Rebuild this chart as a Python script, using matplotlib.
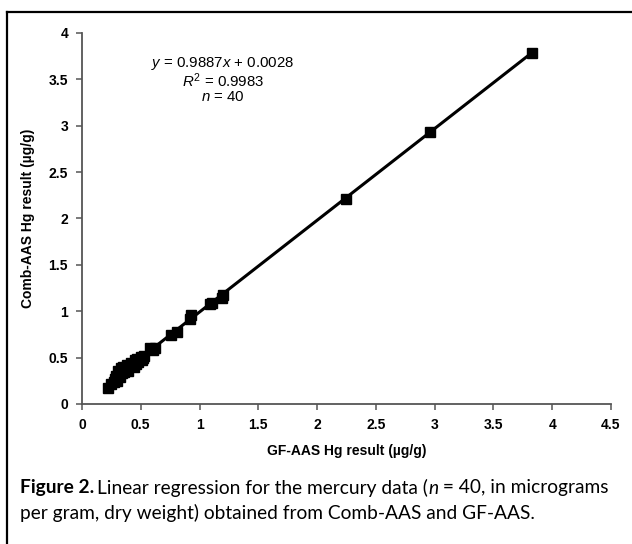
import matplotlib
matplotlib.use('Agg')
import matplotlib.pyplot as plt
from matplotlib.lines import Line2D
import numpy as np

plt.rcParams['font.family'] = ['Liberation Sans', 'DejaVu Sans']
plt.rcParams['mathtext.fontset'] = 'custom'
plt.rcParams['mathtext.rm'] = 'Liberation Sans'
plt.rcParams['mathtext.it'] = 'Liberation Sans:italic'

# GF-AAS vs Comb-AAS Hg results (ug/g)
gf_aas = [0.22, 0.25, 0.27, 0.28, 0.29, 0.30, 0.31, 0.32, 0.33, 0.34,
          0.35, 0.36, 0.37, 0.38, 0.39, 0.40, 0.42, 0.44, 0.45, 0.46,
          0.47, 0.48, 0.50, 0.51, 0.52, 0.53, 0.58, 0.60, 0.62, 0.76,
          0.81, 0.92, 0.93, 1.09, 1.11, 1.19, 1.20, 2.25, 2.96, 3.83]
comb_aas = [0.17, 0.21, 0.24, 0.27, 0.30, 0.25, 0.36, 0.29, 0.39, 0.33,
            0.40, 0.35, 0.38, 0.42, 0.36, 0.41, 0.44, 0.40, 0.47, 0.43,
            0.49, 0.45, 0.51, 0.47, 0.50, 0.52, 0.60, 0.58, 0.60, 0.74,
            0.78, 0.92, 0.96, 1.08, 1.09, 1.14, 1.18, 2.21, 2.93, 3.78]
slope = 0.9887
intercept = 0.0028
r2 = 0.9983
x_ticks = [0, 0.5, 1, 1.5, 2, 2.5, 3, 3.5, 4, 4.5]
y_ticks = [0, 0.5, 1, 1.5, 2, 2.5, 3, 3.5, 4]

fig = plt.figure(figsize=(6.32, 5.44), dpi=100)
ax = fig.add_axes([0.1297, 0.2574, 0.837, 0.682])

xs = np.array([min(gf_aas), max(gf_aas)])
ax.plot(xs, slope * xs + intercept, color='black', lw=2.2, zorder=2)
ax.plot(gf_aas, comb_aas, 's', color='black', markersize=7.8, zorder=3)

ax.set_xlim(0, 4.5)
ax.set_ylim(0, 4)
ax.set_xticks(x_ticks)
ax.set_yticks(y_ticks)
ax.set_xticklabels([f'{v:g}' for v in x_ticks])
ax.set_yticklabels([f'{v:g}' for v in y_ticks])
for s in ['top', 'right']:
    ax.spines[s].set_visible(False)
for s in ['left', 'bottom']:
    ax.spines[s].set_color('#555555')
    ax.spines[s].set_linewidth(1.3)
ax.tick_params(direction='out', length=4, width=1.1, color='#555555',
               labelsize=10, pad=6)
for lab in ax.get_xticklabels() + ax.get_yticklabels():
    lab.set_fontweight('bold')

ax.set_xlabel('GF-AAS Hg result (µg/g)', fontsize=10, fontweight='bold', labelpad=9)
ax.set_ylabel('Comb-AAS Hg result (µg/g)', fontsize=10, fontweight='bold', labelpad=10)

ax.text(1.2, 3.67, '$\\it{y}$ = %.4f$\\it{x}$ + %.4f' % (slope, intercept),
        ha='center', va='center', fontsize=10.8)
ax.text(1.2, 3.49, '$\\it{R}^2$ = %.4f' % r2, ha='center', va='center', fontsize=10.8)
ax.text(1.2, 3.31, '$\\it{n}$ = %d' % len(gf_aas), ha='center', va='center', fontsize=10.8)

# frame lines of the figure box (top and left)
fig.add_artist(Line2D([7 / 632, 1], [1 - 12 / 544, 1 - 12 / 544],
                      transform=fig.transFigure, color='black', lw=1.6))
fig.add_artist(Line2D([7 / 632, 7 / 632], [0, 1 - 12 / 544],
                      transform=fig.transFigure, color='black', lw=1.6))

# caption
cap_font = ['Lato', 'DejaVu Sans']
cap_size = 13.8
y1 = 1 - 488 / 544
y2 = 1 - 513 / 544
t1 = fig.text(20 / 632, y1, 'Figure 2.', fontsize=cap_size, fontweight='bold',
              family=cap_font, va='center')
fig.canvas.draw()
bb = t1.get_window_extent()
t2 = fig.text((bb.x1 + 3) / fig.bbox.width, y1,
              'Linear regression for the mercury data (',
              fontsize=cap_size, family=cap_font, va='center')
fig.canvas.draw()
bb2 = t2.get_window_extent()
t3 = fig.text(bb2.x1 / fig.bbox.width, y1, 'n', fontsize=cap_size, style='italic',
              family=cap_font, va='center')
fig.canvas.draw()
bb3 = t3.get_window_extent()
fig.text(bb3.x1 / fig.bbox.width, y1, ' = 40, in micrograms',
         fontsize=cap_size, family=cap_font, va='center')
fig.text(20 / 632, y2, 'per gram, dry weight) obtained from Comb-AAS and GF-AAS.',
         fontsize=cap_size, family=cap_font, va='center')

fig.savefig('out.png', dpi=100)
